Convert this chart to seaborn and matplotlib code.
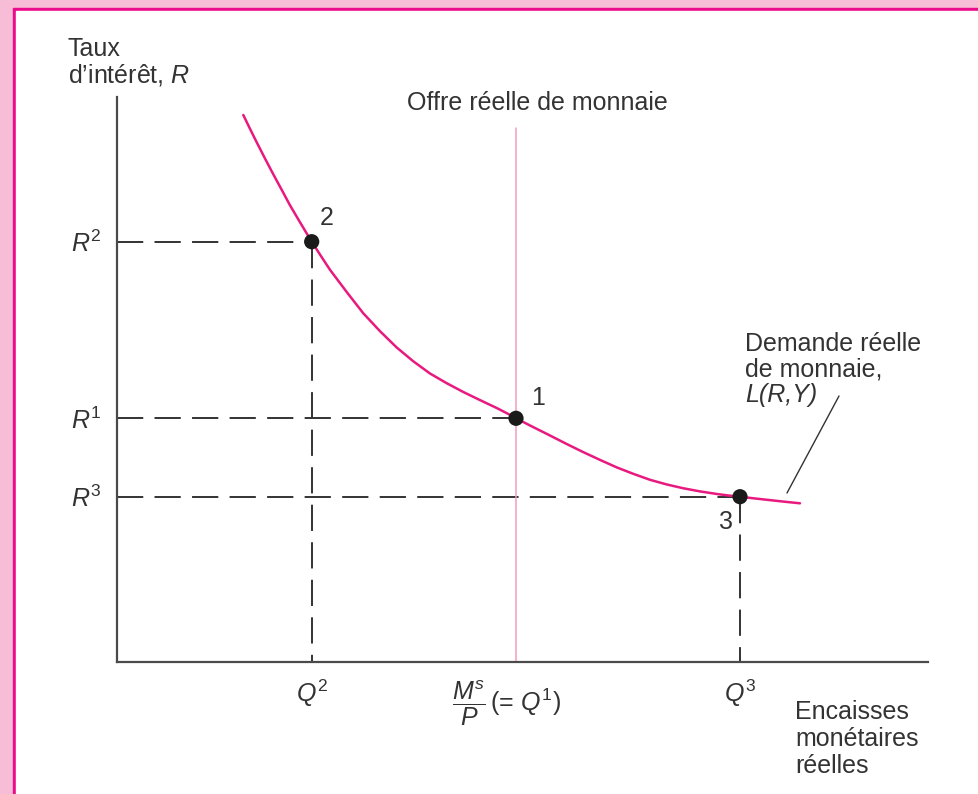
import matplotlib
matplotlib.use("Agg")
import matplotlib.pyplot as plt
import seaborn as sns
import pandas as pd
from matplotlib.patches import Rectangle

# demand curve L(R,Y)
money_q = [1.263, 1.330, 1.397, 1.480, 1.563, 1.647, 1.730, 1.838, 1.947,
           2.038, 2.130, 2.297, 2.463, 2.630, 2.797, 2.963, 3.130, 3.297,
           3.463, 3.630, 3.797, 3.898, 3.990, 4.160, 4.330, 4.495, 4.660,
           4.830, 5.000, 5.165, 5.330, 5.495, 5.660, 5.830, 6.000, 6.115,
           6.230, 6.365, 6.500, 6.665, 6.830]
rate_r = [5.470, 5.332, 5.197, 5.035, 4.877, 4.722, 4.567, 4.384, 4.203,
          4.062, 3.922, 3.700, 3.487, 3.308, 3.145, 3.007, 2.885, 2.788,
          2.700, 2.619, 2.540, 2.488, 2.437, 2.350, 2.265, 2.181, 2.100,
          2.021, 1.945, 1.881, 1.822, 1.776, 1.738, 1.706, 1.680, 1.665,
          1.653, 1.637, 1.622, 1.604, 1.587]

# equilibrium points 2, 1, 3
pt_names = ["2", "1", "3"]
pt_q = [1.947, 3.99, 6.23]
pt_r = [4.203, 2.437, 1.653]

supply_top = 5.34
r_labels = [r"$R^2$", r"$R^1$", r"$R^3$"]

PINK = "#e8197f"
LIGHT = "#f29ac0"
INK = "#333333"
AXC = "#4a4a4a"

sns.set_theme(style="white")
plt.rcParams["font.family"] = ["Liberation Sans", "DejaVu Sans"]
plt.rcParams["mathtext.fontset"] = "custom"
plt.rcParams["mathtext.rm"] = "Liberation Sans"
plt.rcParams["mathtext.it"] = "Liberation Sans:italic"

W, H = 979, 794
fig = plt.figure(figsize=(W / 100, H / 100), dpi=100)

# page frame: light pink band, magenta rule, white page
fig.patches.append(Rectangle((0, 0), 1, 1, transform=fig.transFigure,
                             color="#f7bdd7", zorder=-3))
fig.patches.append(Rectangle((13 / W, 0), 1, 1 - 8 / H, transform=fig.transFigure,
                             color="#ec0b8c", zorder=-2))
fig.patches.append(Rectangle((16 / W, 0), 1, 1 - 11 / H, transform=fig.transFigure,
                             color="white", zorder=-1))

ax = fig.add_axes([117 / W, (H - 662) / H, 811 / W, 565 / H])
ax.set_facecolor("none")
ax.set_xlim(0, 8.11)
ax.set_ylim(0, 5.65)

for s in ["top", "right"]:
    ax.spines[s].set_visible(False)
for s in ["left", "bottom"]:
    ax.spines[s].set_color(AXC)
    ax.spines[s].set_linewidth(1.6)

dash = (0, (13.5, 5.8))
for q, r in zip(pt_q, pt_r):
    ax.plot([0, q], [r, r], color=INK, lw=1.4, linestyle=dash, zorder=2)
for q, r in zip(pt_q, pt_r):
    if q != pt_q[1]:
        ax.plot([q, q], [r, 0], color=INK, lw=1.4, linestyle=dash, zorder=2)

# real money supply
ax.plot([pt_q[1], pt_q[1]], [0, supply_top], color=LIGHT, lw=1.1, zorder=2)

curve = pd.DataFrame({"q": money_q, "r": rate_r})
sns.lineplot(data=curve, x="q", y="r", sort=False, color=PINK, lw=1.8,
             ax=ax, zorder=3)
pts = pd.DataFrame({"q": pt_q, "r": pt_r})
sns.scatterplot(data=pts, x="q", y="r", color="#1a1a1a", s=120,
                edgecolor="none", ax=ax, zorder=4)

fs = 18
ax.set_xlabel("")
ax.set_ylabel("")
ax.set_xticks(pt_q)
ax.set_xticklabels([])
ax.set_yticks(pt_r)
ax.set_yticklabels(r_labels, fontsize=fs, color=INK)
ax.tick_params(axis="both", direction="out", length=7, width=1.6, color=AXC)
ax.tick_params(axis="y", pad=4)

ax.text(-0.49, 6.25, "Taux\nd’intérêt, $R$", ha="left", va="top",
        fontsize=fs, color=INK, linespacing=1.05, clip_on=False)
ax.text(2.90, 5.59, "Offre réelle de monnaie", ha="left", va="center",
        fontsize=fs, color=INK)
offsets = [(0.15, 0.24), (0.22, 0.20), (-0.14, -0.25)]
for name, q, r, (dx, dy) in zip(pt_names, pt_q, pt_r, offsets):
    ax.text(q + dx, r + dy, name, ha="center", va="center", fontsize=fs,
            color=INK)

ax.text(6.28, 3.30, "Demande réelle\nde monnaie,", ha="left", va="top",
        fontsize=fs, color=INK, linespacing=1.08)
ax.text(6.28, 2.67, "L(R,Y)", ha="left", va="center", fontsize=fs,
        color=INK, style="italic")
ax.plot([6.70, 7.22], [1.69, 2.66], color=INK, lw=1.0)

ax.text(pt_q[0], -0.31, r"$Q^2$", ha="center", va="center", fontsize=fs,
        color=INK, clip_on=False)
ax.text(pt_q[2], -0.31, r"$Q^3$", ha="center", va="center", fontsize=fs,
        color=INK, clip_on=False)
ax.text(pt_q[1] - 0.1, -0.41, r"$\dfrac{M^s}{P}\,$(= $Q^1$)", ha="center",
        va="center", fontsize=fs, color=INK, clip_on=False)
ax.text(6.78, -0.38, "Encaisses\nmonétaires\nréelles", ha="left", va="top",
        fontsize=fs, color=INK, linespacing=1.15, clip_on=False)

fig.savefig("out.png", dpi=100)
